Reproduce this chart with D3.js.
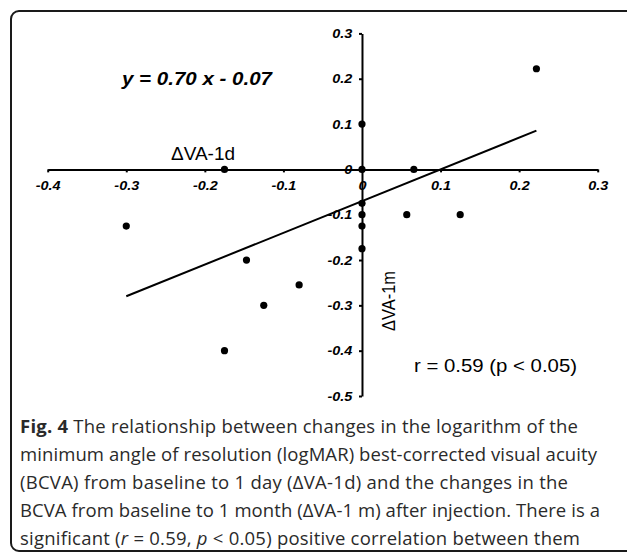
<!DOCTYPE html>
<html>
<head>
<meta charset="utf-8">
<script src="https://cdn.jsdelivr.net/npm/d3@7"></script>
<style>
  html, body { margin: 0; padding: 0; background: #fff; }
  svg { display: block; }
</style>
</head>
<body>
<svg id="chart" width="627" height="552"></svg>
<script>
// ---- data ----
const xTickValues = [-0.4, -0.3, -0.2, -0.1, 0, 0.1, 0.2, 0.3];
const yTickValues = [0.3, 0.2, 0.1, 0, -0.1, -0.2, -0.3, -0.4, -0.5];
// ΔVA-1d (x) and ΔVA-1m (y) for each eye
const deltaVA1d = [0.222, 0, -0.175, 0, 0.066, -0.30, 0, 0, 0.057, 0.125, 0, 0, -0.147, -0.08, -0.125, -0.175];
const deltaVA1m = [0.222, 0.1, 0, 0, 0, -0.125, -0.075, -0.1, -0.1, -0.1, -0.125, -0.175, -0.2, -0.255, -0.3, -0.4];
const slope = 0.70;
const intercept = -0.07;
const equationText = "y = 0.70 x - 0.07";
const xLabelText = "ΔVA-1d";
const yLabelText = "ΔVA-1m";
const statText = "r = 0.59 (p < 0.05)";
const captionLines = [
  [{t: "Fig. 4", w: "bold"}, {t: " The relationship between changes in the logarithm of the"}],
  [{t: "minimum angle of resolution (logMAR) best-corrected visual acuity"}],
  [{t: "(BCVA) from baseline to 1 day (ΔVA-1d) and the changes in the"}],
  [{t: "BCVA from baseline to 1 month (ΔVA-1 m) after injection. There is a"}],
  [{t: "significant ("}, {t: "r", s: "italic"}, {t: " = 0.59, "}, {t: "p", s: "italic"}, {t: " < 0.05) positive correlation between them"}]
];
const captionWidths = [558, 577, 548, 580, 560];

// ---- drawing ----
const svg = d3.select("#chart");

// frame
svg.append("rect")
  .attr("x", 11).attr("y", 11)
  .attr("width", 700).attr("height", 540)
  .attr("rx", 8).attr("ry", 8)
  .attr("fill", "#fff")
  .attr("stroke", "#1a1a1a")
  .attr("stroke-width", 2);

const x = d3.scaleLinear().domain([-0.4, 0.3]).range([47.7, 597.7]);
const y = d3.scaleLinear().domain([-0.5, 0.3]).range([396, 33.4]);

const tickFont = "'Liberation Sans', Arial, sans-serif";
const fmt = d => String(+d.toFixed(1)).replace("\u2212", "-");

function styleAxis(g) {
  g.select(".domain").attr("stroke", "#000").attr("stroke-width", 2);
  g.selectAll(".tick line").attr("stroke", "#000").attr("stroke-width", 2);
  g.selectAll(".tick text")
    .attr("fill", "#000")
    .attr("font-family", tickFont)
    .attr("font-weight", "bold")
    .attr("font-style", "italic")
    .attr("font-size", 13);
}

const xAxis = d3.axisBottom(x)
  .tickValues(xTickValues)
  .tickFormat(fmt)
  .tickSize(3).tickSizeOuter(0).tickPadding(8);

const yAxis = d3.axisLeft(y)
  .tickValues(yTickValues)
  .tickFormat(fmt)
  .tickSize(3).tickSizeOuter(0).tickPadding(6.7);

const gx = svg.append("g").attr("transform", `translate(0,${y(0)})`).call(xAxis);
gx.call(styleAxis);
const gy = svg.append("g").attr("transform", `translate(${x(0)},0)`).call(yAxis);
gy.call(styleAxis);

// stretch tick labels horizontally like the original
svg.selectAll(".tick text").each(function() {
  const L = this.getComputedTextLength();
  d3.select(this).attr("textLength", L * 1.11).attr("lengthAdjust", "spacingAndGlyphs");
});

// regression line over data extent
const ext = d3.extent(deltaVA1d);
const line = d3.line().x(d => x(d)).y(d => y(slope * d + intercept));
svg.append("path")
  .attr("d", line(ext))
  .attr("fill", "none")
  .attr("stroke", "#000")
  .attr("stroke-width", 2);

// points
svg.append("g").selectAll("circle")
  .data(deltaVA1d.map((d, i) => [d, deltaVA1m[i]]))
  .join("circle")
  .attr("cx", d => x(d[0]))
  .attr("cy", d => y(d[1]))
  .attr("r", 3.6)
  .attr("fill", "#000");

// equation
svg.append("text")
  .attr("x", 122).attr("y", 85)
  .attr("font-family", tickFont).attr("font-weight", "bold").attr("font-style", "italic")
  .attr("font-size", 18)
  .attr("textLength", 150).attr("lengthAdjust", "spacingAndGlyphs")
  .text(equationText);

// axis labels
svg.append("text")
  .attr("x", 171).attr("y", 160)
  .attr("font-family", tickFont).attr("font-size", 18)
  .attr("textLength", 64).attr("lengthAdjust", "spacingAndGlyphs")
  .text(xLabelText);

svg.append("text")
  .attr("transform", "translate(395,301) rotate(-90)")
  .attr("text-anchor", "middle")
  .attr("font-family", tickFont).attr("font-size", 18)
  .attr("textLength", 60).attr("lengthAdjust", "spacingAndGlyphs")
  .text(yLabelText);

svg.append("text")
  .attr("x", 414).attr("y", 372)
  .attr("font-family", tickFont).attr("font-size", 17.5)
  .attr("textLength", 163).attr("lengthAdjust", "spacingAndGlyphs")
  .text(statText);

// caption
const capBase = [433, 461, 489, 517, 545];
captionLines.forEach((parts, i) => {
  const t = svg.append("text")
    .attr("x", 20).attr("y", capBase[i])
    .attr("font-family", "'Open Sans', 'Noto Sans', sans-serif")
    .attr("font-size", 18.5)
    .attr("fill", "#2a2a2a");
  parts.forEach(p => {
    t.append("tspan")
      .attr("font-weight", p.w || "normal")
      .attr("font-style", p.s || "normal")
      .text(p.t);
  });
  const node = t.node();
  const L = node.getComputedTextLength();
  const n = node.textContent.length;
  const ls = (captionWidths[i] - L) / (n - 1);
  t.attr("letter-spacing", ls);
});
</script>
</body>
</html>
